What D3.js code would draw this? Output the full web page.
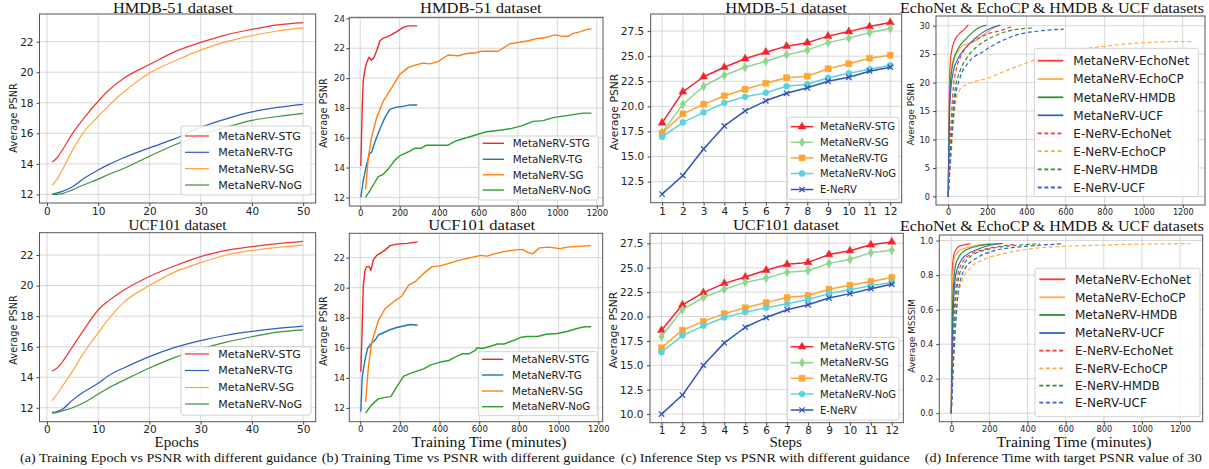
<!DOCTYPE html>
<html><head><meta charset="utf-8">
<script src="https://cdn.jsdelivr.net/npm/d3@7"></script>
<style>body{margin:0;background:#fff;} svg{display:block}</style>
</head><body>
<svg id="chart" width="1209" height="469"></svg>
<script>
// ================= DATA =================
// (a) Training epoch vs PSNR
const epochs = [1,2,3,5,7,10,12,15,20,25,30,35,40,45,50];
const hmdbEpochSTG = [14.1,14.4,14.9,16.0,16.9,18.1,18.8,19.6,20.5,21.35,21.95,22.45,22.8,23.1,23.25];
const hmdbEpochTG  = [12.0,12.1,12.2,12.5,13.0,13.6,13.95,14.4,15.05,15.65,16.4,16.95,17.4,17.7,17.9];
const hmdbEpochSG  = [12.6,13.0,13.6,14.9,16.0,17.1,17.8,18.7,19.95,20.75,21.45,22.0,22.4,22.7,22.9];
const hmdbEpochNoG = [12.0,12.0,12.05,12.3,12.6,13.0,13.3,13.7,14.5,15.25,15.9,16.4,16.85,17.1,17.3];
const ucfEpochSTG  = [14.4,14.6,15.0,16.0,17.0,18.4,19.0,19.7,20.6,21.3,21.9,22.3,22.55,22.75,22.9];
const ucfEpochTG   = [11.7,11.75,11.9,12.5,13.0,13.6,14.1,14.6,15.35,15.95,16.4,16.75,17.0,17.2,17.35];
const ucfEpochSG   = [12.45,12.9,13.4,14.4,15.5,16.9,17.8,18.9,20.0,20.9,21.5,22.0,22.3,22.5,22.65];
const ucfEpochNoG  = [11.65,11.7,11.8,12.0,12.3,12.9,13.3,13.8,14.6,15.3,15.85,16.3,16.65,16.95,17.1];

// (b) Training time (minutes) vs PSNR
const hmdbTimeSTGMin  = [3,10,15,24,32,44,57,70,85,100,120,133,150,170,184,200,218,243,260,289];
const hmdbTimeSTGPsnr = [14.1,18.0,19.8,20.6,21.0,21.4,21.2,21.4,21.9,22.5,22.7,22.75,22.85,23.0,23.1,23.25,23.4,23.5,23.5,23.5];
const hmdbTimeTGMin   = [3,15,32,49,57,74,100,125,150,184,218,252,289];
const hmdbTimeTGPsnr  = [12.0,13.1,14.2,15.0,15.0,15.7,16.6,17.35,17.9,18.05,18.1,18.2,18.2];
const hmdbTimeSGMin   = [27,41,57,83,117,159,201,243,286,320,353,395,446,497,539,590,615,657,700,759,809,852,894,936,987,1029,1055,1080,1114,1147,1173];
const hmdbTimeSGPsnr  = [12.55,14.7,16.0,17.35,18.45,19.35,20.25,20.7,20.9,21.0,20.95,21.1,21.55,21.5,21.65,21.7,21.8,21.8,21.8,22.3,22.4,22.5,22.65,22.7,22.9,22.8,22.8,23.0,23.1,23.25,23.3];
const hmdbTimeNoGMin  = [27,49,74,91,117,142,176,201,227,252,277,311,336,370,404,446,488,539,590,640,708,759,818,877,928,978,1029,1080,1130,1173];
const hmdbTimeNoGPsnr = [12.0,12.45,13.0,13.4,13.55,13.9,14.5,14.8,14.95,15.1,15.3,15.3,15.5,15.5,15.5,15.5,15.8,16.0,16.2,16.4,16.5,16.6,16.8,17.1,17.15,17.35,17.45,17.55,17.65,17.65];

const ucfTimeSTGMin  = [3,10,15,24,32,46,54,66,83,96,108,125,150,184,235,289];
const ucfTimeSTGPsnr = [14.4,17.4,20.05,21.15,21.4,21.4,21.15,21.85,22.15,22.25,22.35,22.5,22.8,22.9,22.95,23.05];
const ucfTimeTGMin   = [3,10,24,37,57,74,91,117,150,184,218,252,289];
const ucfTimeTGPsnr  = [11.75,14.05,15.2,15.95,16.3,16.5,16.85,17.0,17.2,17.35,17.45,17.55,17.5];
const ucfTimeSGMin   = [27,41,57,91,125,167,210,243,277,320,362,404,455,505,556,607,640,674,725,776,818,843,869,903,953,1004,1046,1097,1164];
const ucfTimeSGPsnr  = [12.4,14.7,16.3,17.8,18.6,19.05,19.45,20.15,20.4,20.95,21.4,21.45,21.65,21.85,22.0,22.15,22.1,22.25,22.4,22.5,22.55,22.35,22.25,22.65,22.7,22.6,22.7,22.75,22.8];
const ucfTimeNoGMin  = [27,57,91,125,154,184,218,252,286,320,353,404,446,480,514,548,581,590,615,657,691,725,776,810,843,894,936,995,1046,1097,1131,1164];
const ucfTimeNoGPsnr = [11.65,12.2,12.6,12.7,12.75,13.4,14.1,14.3,14.45,14.6,14.85,15.05,15.15,15.4,15.6,15.6,15.85,16.0,15.95,16.1,16.25,16.25,16.5,16.7,16.75,16.75,16.9,16.95,17.1,17.3,17.4,17.4];

// (c) Inference step vs PSNR
const steps = [1,2,3,4,5,6,7,8,9,10,11,12];
const hmdbStepSTG   = [18.35,21.45,22.95,23.9,24.75,25.4,26.0,26.35,27.0,27.45,27.95,28.35];
const hmdbStepSG    = [17.4,20.2,22.0,23.1,23.9,24.5,25.15,25.6,26.35,26.8,27.35,27.75];
const hmdbStepTG    = [17.35,19.25,20.2,21.05,21.7,22.3,22.85,23.0,23.75,24.25,24.8,25.1];
const hmdbStepNoG   = [16.95,18.4,19.4,20.35,20.95,21.35,22.0,22.2,22.85,23.3,23.7,24.1];
const hmdbStepENeRV = [11.25,13.1,15.75,18.05,19.55,20.55,21.3,21.85,22.5,22.9,23.5,23.9];
const ucfStepSTG    = [18.6,21.2,22.45,23.4,24.05,24.75,25.35,25.55,26.35,26.75,27.35,27.65];
const ucfStepSG     = [17.95,20.7,21.95,22.8,23.5,23.95,24.55,24.7,25.45,25.85,26.55,26.8];
const ucfStepTG     = [16.8,18.6,19.5,20.3,20.9,21.45,21.95,22.15,22.8,23.2,23.6,24.0];
const ucfStepNoG    = [16.35,18.05,19.05,19.9,20.45,20.9,21.3,21.75,22.35,22.75,23.15,23.5];
const ucfStepENeRV  = [10.0,11.95,15.0,17.3,18.9,19.9,20.7,21.2,21.9,22.35,22.85,23.3];

// (d) Time to reach target PSNR 30 (PSNR and MS-SSIM)
const dMetaEchoNetMin  = [0,5,9,17,34,60,86,103];
const dMetaEchoNetPsnr = [0,16.8,22.6,25.5,27.5,28.7,29.5,30.2];
const dMetaEchoCPMin   = [0,5,12,26,51,77,111,146,180,214,240];
const dMetaEchoCPPsnr  = [0,14.0,21.4,24.0,25.5,26.6,26.9,27.5,28.4,29.2,29.8];
const dMetaHMDBMin     = [0,9,26,51,86,120,154,195];
const dMetaHMDBPsnr    = [0,19.1,23.7,26.0,27.5,28.7,29.6,30.1];
const dMetaUCFMin      = [0,9,26,51,86,129,171,214,266];
const dMetaUCFPsnr     = [0,16.8,22.0,24.3,26.0,27.5,28.7,29.5,30.1];
const dENeRVEchoNetMin  = [0,12,26,43,69,103,154,214,274,334];
const dENeRVEchoNetPsnr = [0,11.0,19.1,22.6,24.9,26.6,27.8,28.7,29.2,30.0];
const dENeRVEchoCPMin   = [0,17,29,43,60,94,146,206,266,334,403,471,557,660,780,917,1054,1157,1251];
const dENeRVEchoCPPsnr  = [0,8.1,13.9,17.4,18.8,19.7,20.3,20.8,21.7,22.6,23.5,24.3,25.0,25.8,26.3,26.8,27.1,27.2,27.2];
const dENeRVHMDBMin     = [0,17,34,60,94,146,214,300,386,437];
const dENeRVHMDBPsnr    = [0,11.0,18.5,22.0,24.3,26.3,27.8,29.0,29.5,29.6];
const dENeRVUCFMin      = [0,17,34,60,103,180,266,351,471,591];
const dENeRVUCFPsnr     = [0,9.8,16.8,20.8,23.5,25.5,27.2,28.4,29.1,29.4];

const sMetaEchoNetMin  = [0,5,14,31,57,101];
const sMetaEchoNetSsim = [0,0.82,0.92,0.958,0.973,0.981];
const sMetaEchoCPMin   = [0,5,17,40,83,135,205];
const sMetaEchoCPSsim  = [0,0.73,0.90,0.94,0.958,0.973,0.981];
const sMetaHMDBMin     = [0,7,23,49,83,135,205,270];
const sMetaHMDBSsim    = [0,0.63,0.86,0.92,0.948,0.967,0.979,0.983];
const sMetaUCFMin      = [0,9,23,49,83,135,205,266];
const sMetaUCFSsim     = [0,0.54,0.80,0.88,0.92,0.948,0.973,0.983];
const sENeRVEchoNetMin  = [0,14,31,57,101,170,257,326];
const sENeRVEchoNetSsim = [0,0.54,0.785,0.87,0.92,0.948,0.967,0.977];
const sENeRVEchoCPMin   = [0,17,35,57,101,170,257,361,465,604,778,952,1125,1256];
const sENeRVEchoCPSsim  = [0,0.44,0.67,0.766,0.843,0.89,0.92,0.943,0.958,0.967,0.973,0.979,0.981,0.983];
const sENeRVHMDBMin     = [0,17,35,66,118,188,292,396,465];
const sENeRVHMDBSsim    = [0,0.54,0.766,0.86,0.92,0.948,0.967,0.977,0.981];
const sENeRVUCFMin      = [0,19,40,75,135,222,344,465,587];
const sENeRVUCFSsim     = [0,0.44,0.73,0.843,0.90,0.94,0.962,0.973,0.981];

// Tick values and texts
const epochTicks = [0,10,20,30,40,50];
const timeTicks = [0,200,400,600,800,1000,1200];
const psnrTicksA = [12,14,16,18,20,22];
const psnrTicksB1 = [12,14,16,18,20,22,24];
const psnrTicksB2 = [12,14,16,18,20,22];
const psnrTicksC1 = [12.5,15.0,17.5,20.0,22.5,25.0,27.5];
const psnrTicksC2 = [10.0,12.5,15.0,17.5,20.0,22.5,25.0,27.5];
const psnrTicksD = [0,5,10,15,20,25,30];
const ssimTicksD = [0.0,0.2,0.4,0.6,0.8,1.0];

const guideNames = ["MetaNeRV-STG","MetaNeRV-TG","MetaNeRV-SG","MetaNeRV-NoG"];
const stepNames = ["MetaNeRV-STG","MetaNeRV-SG","MetaNeRV-TG","MetaNeRV-NoG","E-NeRV"];
const dNames = ["MetaNeRV-EchoNet","MetaNeRV-EchoCP","MetaNeRV-HMDB","MetaNeRV-UCF","E-NeRV-EchoNet","E-NeRV-EchoCP","E-NeRV-HMDB","E-NeRV-UCF"];
const titleHMDB = "HMDB-51  dataset";
const titleUCF = "UCF101  dataset";
const titleAll = "EchoNet & EchoCP & HMDB & UCF  datasets";
const captions = ["(a) Training Epoch vs PSNR with different guidance","(b) Training Time vs PSNR with different guidance","(c) Inference Step vs PSNR with different guidance","(d) Inference Time with target PSNR value of 30"];

// ================= DRAWING =================
const svg = d3.select('#chart');
const SANS = "'DejaVu Sans', sans-serif";
const SERIF = "'Liberation Serif', 'Times New Roman', serif";

function padDomain(vals){ const [a,b]=d3.extent(vals); const m=(b-a)*0.05; return [a-m,b+m]; }

function markerPath(type, s){
  if(type==='tri') return d3.symbol(d3.symbolTriangle, s*s*0.75)();
  if(type==='dia') return d3.symbol(d3.symbolDiamond, s*s*0.7)();
  if(type==='sq') return d3.symbol(d3.symbolSquare, s*s)();
  if(type==='circ') return d3.symbol(d3.symbolCircle, s*s*0.8)();
  if(type==='x'){ const h=s*0.45; return `M${-h},${-h}L${h},${h}M${-h},${h}L${h},${-h}`; }
  return null;
}

function panel(cfg){
  const {box, series, xTicks, yTicks, yFmt, tickFs, xOff, yOff, ylabel, ylabelPos, ylabelFs, curve, lw, legend, mSize} = cfg;
  const x = d3.scaleLinear().domain(padDomain(series.flatMap(s=>s.x))).range([box.l, box.r]);
  const y = d3.scaleLinear().domain(padDomain(series.flatMap(s=>s.y))).range([box.b, box.t]);
  const g = svg.append('g');
  // grid
  g.append('g').selectAll('line').data(xTicks).join('line')
    .attr('x1',d=>x(d)).attr('x2',d=>x(d)).attr('y1',box.t).attr('y2',box.b)
    .attr('stroke','#d4d4d4').attr('stroke-width',0.9);
  g.append('g').selectAll('line').data(yTicks).join('line')
    .attr('y1',d=>y(d)).attr('y2',d=>y(d)).attr('x1',box.l).attr('x2',box.r)
    .attr('stroke','#d4d4d4').attr('stroke-width',0.9);
  // lines
  const clipId = 'clip'+Math.random().toString(36).slice(2);
  svg.append('clipPath').attr('id',clipId).append('rect')
    .attr('x',box.l).attr('y',box.t).attr('width',box.r-box.l).attr('height',box.b-box.t);
  const lg = g.append('g').attr('clip-path',`url(#${clipId})`);
  series.forEach(s=>{
    const pts = s.x.map((v,i)=>[v,s.y[i]]);
    lg.append('path').attr('d', d3.line().x(d=>x(d[0])).y(d=>y(d[1])).curve(curve)(pts))
      .attr('fill','none').attr('stroke',s.color).attr('stroke-width',lw)
      .attr('stroke-dasharray', s.dash||null).attr('stroke-linejoin','round');
    if(s.marker){
      lg.selectAll(null).data(pts).join('path')
        .attr('transform',d=>`translate(${x(d[0])},${y(d[1])})`)
        .attr('d', markerPath(s.marker, mSize))
        .attr('fill', s.marker==='x'?'none':s.color)
        .attr('stroke', s.color).attr('stroke-width', s.marker==='x'?1.2:0.5);
    }
  });
  // frame
  g.append('rect').attr('x',box.l).attr('y',box.t).attr('width',box.r-box.l).attr('height',box.b-box.t)
    .attr('fill','none').attr('stroke','#555').attr('stroke-width',1);
  // axes
  const tick = 3;
  const ax = g.append('g').attr('transform',`translate(0,${box.b})`)
    .call(d3.axisBottom(x).tickValues(xTicks).tickFormat(d3.format('d')).tickSize(tick).tickSizeOuter(0).tickPadding(xOff - tick - 0.71*tickFs));
  const ay = g.append('g').attr('transform',`translate(${box.l},0)`)
    .call(d3.axisLeft(y).tickValues(yTicks).tickFormat(yFmt||d3.format('d')).tickSize(tick).tickSizeOuter(0).tickPadding(yOff - tick));
  [ax,ay].forEach(a=>{
    a.select('.domain').remove();
    a.selectAll('line').attr('stroke','#444');
    a.selectAll('text').attr('font-family',SANS).attr('font-size',tickFs).attr('fill','#222');
  });
  // y label
  g.append('text').attr('transform',`translate(${ylabelPos[0]},${ylabelPos[1]}) rotate(-90)`)
    .attr('text-anchor','middle').attr('dy','0.35em')
    .attr('font-family',SANS).attr('font-size',ylabelFs).attr('fill','#222').text(ylabel);
  // legend
  const L = legend;
  const lgd = g.append('g');
  lgd.append('rect').attr('x',L.x).attr('y',L.y).attr('width',L.w).attr('height',L.h).attr('rx',2)
    .attr('fill','#fff').attr('fill-opacity',0.85).attr('stroke','#cccccc').attr('stroke-width',0.9);
  series.forEach((s,i)=>{
    const ry = L.rows[i];
    lgd.append('line').attr('x1',L.lx1).attr('x2',L.lx2).attr('y1',ry).attr('y2',ry)
      .attr('stroke',s.color).attr('stroke-width',L.lw||lw).attr('stroke-dasharray',s.dash||null);
    if(s.marker){
      lgd.append('path').attr('transform',`translate(${(L.lx1+L.lx2)/2},${ry})`)
        .attr('d',markerPath(s.marker,mSize)).attr('fill',s.marker==='x'?'none':s.color)
        .attr('stroke',s.color).attr('stroke-width',s.marker==='x'?1.2:0.5);
    }
    lgd.append('text').attr('x',L.tx).attr('y',ry).attr('dy','0.36em')
      .attr('font-family',SANS).attr('font-size',L.fs).attr('fill','#222').text(s.name);
  });
}

function serifText(x, y, str, fs, len){
  const t = svg.append('text').attr('x',x).attr('y',y).attr('text-anchor','middle')
    .attr('font-family',SERIF).attr('font-size',fs).attr('fill','#111').text(str);
  if(len) t.attr('textLength',len).attr('lengthAdjust','spacingAndGlyphs');
}

// colours
const cA = ['#ef3535','#2f5cc2','#ffa63e','#3a943a'];
const cB = ['#ec2a24','#1f77b4','#ff7f0e','#2ca02c'];
const cC = ['#f5222b','#8fd48f','#ffa331','#5cd2de','#3152b6'];
const cD = ['#ff3434','#ffac45','#2f8f2f','#3363c8'];

// ---- (a) ----
const legA1 = {x:181,y:126,w:130,h:69,rows:[136,152.3,168.6,185],lx1:185,lx2:209,tx:218.3,fs:11};
const legA2 = {x:181,y:346.7,w:130,h:68.5,rows:[354,370.5,387.5,404],lx1:185,lx2:209,tx:218.3,fs:11};
function seriesA(vals){ return guideNames.map((n,i)=>({name:n,color:cA[i],x:epochs,y:vals[i]})); }
panel({box:{l:39.5,r:315.7,t:14,b:203}, series:seriesA([hmdbEpochSTG,hmdbEpochTG,hmdbEpochSG,hmdbEpochNoG]),
  xTicks:epochTicks, yTicks:psnrTicksA, tickFs:10.5, xOff:12, yOff:6, ylabel:'Average PSNR', ylabelPos:[13.3,118], ylabelFs:9.8,
  curve:d3.curveMonotoneX, lw:1.2, legend:legA1});
panel({box:{l:39.5,r:315.7,t:232.7,b:421.7}, series:seriesA([ucfEpochSTG,ucfEpochTG,ucfEpochSG,ucfEpochNoG]),
  xTicks:epochTicks, yTicks:psnrTicksA, tickFs:10.5, xOff:11.3, yOff:6, ylabel:'Average PSNR', ylabelPos:[13.3,330], ylabelFs:9.8,
  curve:d3.curveMonotoneX, lw:1.2, legend:legA2});

// ---- (b) ----
const legB1 = {x:479,y:136,w:119.3,h:64,rows:[143.3,159.3,174.8,190],lx1:482.7,lx2:504,tx:512.7,fs:10.3};
const legB2 = {x:478.3,y:351.7,w:119,h:64,rows:[359.3,375,391,406.7],lx1:482,lx2:503.3,tx:512,fs:10.3};
panel({box:{l:349.3,r:603,t:17.3,b:206}, series:[
    {name:guideNames[0],color:cB[0],x:hmdbTimeSTGMin,y:hmdbTimeSTGPsnr},
    {name:guideNames[1],color:cB[1],x:hmdbTimeTGMin,y:hmdbTimeTGPsnr},
    {name:guideNames[2],color:cB[2],x:hmdbTimeSGMin,y:hmdbTimeSGPsnr},
    {name:guideNames[3],color:cB[3],x:hmdbTimeNoGMin,y:hmdbTimeNoGPsnr}],
  xTicks:timeTicks, yTicks:psnrTicksB1, tickFs:8.5, xOff:10, yOff:4.5, ylabel:'Average PSNR', ylabelPos:[323.7,113], ylabelFs:9.8,
  curve:d3.curveLinear, lw:1.4, legend:legB1});
panel({box:{l:349.3,r:602.7,t:233.3,b:421.7}, series:[
    {name:guideNames[0],color:cB[0],x:ucfTimeSTGMin,y:ucfTimeSTGPsnr},
    {name:guideNames[1],color:cB[1],x:ucfTimeTGMin,y:ucfTimeTGPsnr},
    {name:guideNames[2],color:cB[2],x:ucfTimeSGMin,y:ucfTimeSGPsnr},
    {name:guideNames[3],color:cB[3],x:ucfTimeNoGMin,y:ucfTimeNoGPsnr}],
  xTicks:timeTicks, yTicks:psnrTicksB2, tickFs:8.5, xOff:10, yOff:4.5, ylabel:'Average PSNR', ylabelPos:[324,331], ylabelFs:9.8,
  curve:d3.curveLinear, lw:1.4, legend:legB2});

// ---- (c) ----
const mk = ['tri','dia','sq','circ','x'];
const legC1 = {x:787.3,y:117.3,w:111.7,h:82,rows:[126.7,142.3,157.9,173.5,189.5],lx1:790.7,lx2:813.3,tx:820,fs:10};
const legC2 = {x:787.3,y:337.3,w:111.7,h:82.7,rows:[346.7,362.7,378.3,394,410],lx1:790.7,lx2:813.3,tx:820,fs:10};
function seriesC(vals){ return stepNames.map((n,i)=>({name:n,color:cC[i],marker:mk[i],x:steps,y:vals[i]})); }
panel({box:{l:650.7,r:901.7,t:14,b:202.7}, series:seriesC([hmdbStepSTG,hmdbStepSG,hmdbStepTG,hmdbStepNoG,hmdbStepENeRV]),
  xTicks:steps, yTicks:psnrTicksC1, yFmt:d3.format('.1f'), tickFs:10.5, xOff:12.3, yOff:6.5, ylabel:'Average PSNR', ylabelPos:[614,112], ylabelFs:10.8,
  curve:d3.curveLinear, lw:1.5, legend:legC1, mSize:6});
panel({box:{l:650,r:903.3,t:233.3,b:422.7}, series:seriesC([ucfStepSTG,ucfStepSG,ucfStepTG,ucfStepNoG,ucfStepENeRV]),
  xTicks:steps, yTicks:psnrTicksC2, yFmt:d3.format('.1f'), tickFs:10.5, xOff:11.3, yOff:6.5, ylabel:'Average PSNR', ylabelPos:[613.5,330], ylabelFs:10.8,
  curve:d3.curveLinear, lw:1.5, legend:legC2, mSize:6});

// ---- (d) ----
const DASH = '4,2.6';
const legD1 = {x:1034.3,y:48.3,w:164,h:148.4,rows:[60.7,79,97.3,115.3,133.3,151.2,169.3,187.5],lx1:1037.7,lx2:1063.3,tx:1073.3,fs:12,lw:1.8};
const legD2 = {x:1035,y:268.3,w:165,h:148.4,rows:[279.3,297.3,315,333,350.7,368.3,385.7,402.7],lx1:1039.3,lx2:1065,tx:1075,fs:12,lw:1.8};
panel({box:{l:936,r:1205,t:16,b:205}, series:[
    {name:dNames[0],color:cD[0],x:dMetaEchoNetMin,y:dMetaEchoNetPsnr},
    {name:dNames[1],color:cD[1],x:dMetaEchoCPMin,y:dMetaEchoCPPsnr},
    {name:dNames[2],color:cD[2],x:dMetaHMDBMin,y:dMetaHMDBPsnr},
    {name:dNames[3],color:cD[3],x:dMetaUCFMin,y:dMetaUCFPsnr},
    {name:dNames[4],color:cD[0],dash:DASH,x:dENeRVEchoNetMin,y:dENeRVEchoNetPsnr},
    {name:dNames[5],color:cD[1],dash:DASH,x:dENeRVEchoCPMin,y:dENeRVEchoCPPsnr},
    {name:dNames[6],color:cD[2],dash:DASH,x:dENeRVHMDBMin,y:dENeRVHMDBPsnr},
    {name:dNames[7],color:cD[3],dash:DASH,x:dENeRVUCFMin,y:dENeRVUCFPsnr}],
  xTicks:timeTicks, yTicks:psnrTicksD, tickFs:8.2, xOff:10, yOff:6, ylabel:'Average PSNR', ylabelPos:[911,114], ylabelFs:8.8,
  curve:d3.curveMonotoneX, lw:1.2, legend:legD1});
panel({box:{l:939.3,r:1202.7,t:235,b:421.7}, series:[
    {name:dNames[0],color:cD[0],x:sMetaEchoNetMin,y:sMetaEchoNetSsim},
    {name:dNames[1],color:cD[1],x:sMetaEchoCPMin,y:sMetaEchoCPSsim},
    {name:dNames[2],color:cD[2],x:sMetaHMDBMin,y:sMetaHMDBSsim},
    {name:dNames[3],color:cD[3],x:sMetaUCFMin,y:sMetaUCFSsim},
    {name:dNames[4],color:cD[0],dash:DASH,x:sENeRVEchoNetMin,y:sENeRVEchoNetSsim},
    {name:dNames[5],color:cD[1],dash:DASH,x:sENeRVEchoCPMin,y:sENeRVEchoCPSsim},
    {name:dNames[6],color:cD[2],dash:DASH,x:sENeRVHMDBMin,y:sENeRVHMDBSsim},
    {name:dNames[7],color:cD[3],dash:DASH,x:sENeRVUCFMin,y:sENeRVUCFSsim}],
  xTicks:timeTicks, yTicks:ssimTicksD, yFmt:d3.format('.1f'), tickFs:8.2, xOff:10, yOff:6, ylabel:'Average MSSSIM', ylabelPos:[911.5,336], ylabelFs:8.8,
  curve:d3.curveMonotoneX, lw:1.2, legend:legD2});

// ---- titles, axis labels, captions ----
serifText(173,13,titleHMDB,15.5,120);
serifText(480.8,13,titleHMDB,15.5,121.7);
serifText(786,13,titleHMDB,15.5,121.7);
serifText(1052,13,titleAll,15.5,304);
serifText(177.5,229.8,titleUCF,15.5,98);
serifText(481.7,229.8,titleUCF,15.5,107);
serifText(786,229.8,titleUCF,15.5,106);
serifText(1052,230.8,titleAll,15.5,304);

serifText(176.7,447,'Epochs',15);
serifText(489,447,'Training Time (minutes)',15,155);
serifText(785.7,447,'Steps',15);
serifText(1074,447,'Training Time (minutes)',15,155);

serifText(168.5,462,captions[0],13.5,297);
serifText(468.3,462,captions[1],13.5,293);
serifText(765.3,462,captions[2],13.5,289);
serifText(1063.3,462,captions[3],13.5,277);
</script>
</body></html>
